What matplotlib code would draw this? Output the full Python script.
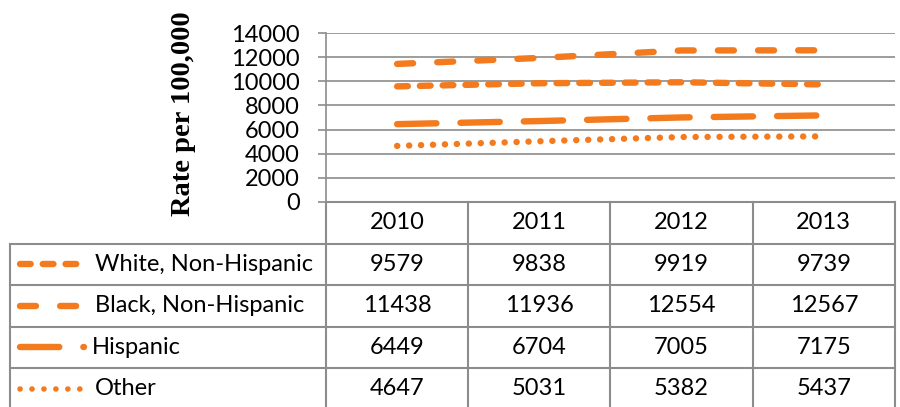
import matplotlib
matplotlib.use("Agg")
import matplotlib.pyplot as plt

years = ["2010", "2011", "2012", "2013"]
groups = ["White, Non-Hispanic", "Black, Non-Hispanic", "Hispanic", "Other"]
white = [9579, 9838, 9919, 9739]
black = [11438, 11936, 12554, 12567]
hispanic = [6449, 6704, 7005, 7175]
other = [4647, 5031, 5382, 5437]
yticks = [0, 2000, 4000, 6000, 8000, 10000, 12000, 14000]

plt.rcParams["font.family"] = ["Lato", "DejaVu Sans"]
plt.rcParams["lines.scale_dashes"] = False

W, H = 900, 407
ORANGE = "#F47A1E"
GRID = "#8c8c8c"
LW = 4.6
FS = 17
# dash patterns in points (on, off)
styles = [
    (0, (7.7, 8.7)),
    (0, (11.5, 17.4)),
    (0, (28.3, 17.3)),
    (0, (0.1, 8.5)),
]

fig = plt.figure(figsize=(W / 100, H / 100), dpi=100)

# plot area in pixels
left, right, top, bottom = 326, 895, 33, 202
ax = fig.add_axes([left / W, 1 - bottom / H, (right - left) / W, (bottom - top) / H])
ax.set_xlim(-0.5, len(years) - 0.5)
ax.set_ylim(0, 14000)
ax.set_yticks(yticks)
ax.set_xticks([])
ax.yaxis.grid(True, color=GRID, lw=1.2)
ax.set_axisbelow(True)
for s in ["top", "right", "bottom"]:
    ax.spines[s].set_visible(False)
ax.spines["left"].set_color(GRID)
ax.spines["left"].set_linewidth(1.2)
ax.tick_params(axis="y", direction="out", length=6, width=1.2, color=GRID,
               pad=13, labelsize=FS, labelcolor="black")

series = [white, black, hispanic, other]
xs = list(range(len(years)))
for vals, ls in zip(series, styles):
    ax.plot(xs, vals, color=ORANGE, lw=LW, linestyle=ls,
            dash_capstyle="round", solid_capstyle="round")

fig.text(183 / W, 1 - 114 / H, "Rate per 100,000", rotation=90,
         ha="center", va="center", family="Liberation Serif",
         weight="bold", fontsize=20.5)

# data table below the plot
tleft = 10
ppu = (right - left) / len(years)
def px2x(px):
    return -0.5 + (px - left) / ppu

row_h = 41.5
tab = fig.add_axes([tleft / W, 0, (right - tleft) / W, (H - bottom) / H])
tab.set_xlim(px2x(tleft), px2x(right))
tab.set_ylim((H - bottom) / row_h, 0)
tab.axis("off")

nrows = len(groups)
ymax = (H - bottom) / row_h + 0.2
lkw = dict(color=GRID, lw=1.5, clip_on=False)
# horizontal borders
tab.plot([-0.5, len(years) - 0.5], [0, 0], **lkw)
for r in range(1, nrows + 1):
    tab.plot([px2x(tleft), len(years) - 0.5], [r, r], **lkw)
# vertical borders
tab.plot([px2x(tleft), px2x(tleft)], [1, ymax], **lkw)
for c in range(len(years) + 1):
    tab.plot([c - 0.5, c - 0.5], [0, ymax], **lkw)

for c, yr in enumerate(years):
    tab.text(c, 0.5, yr, ha="center", va="center", fontsize=FS)

sample_end = [77, 77, 84, 80]
for r, (name, vals, ls) in enumerate(zip(groups, series, styles)):
    yc = r + 1.5
    tab.plot([px2x(20), px2x(sample_end[r])], [yc, yc], color=ORANGE,
             lw=LW if r != 3 else 4.0, linestyle=ls, dash_capstyle="round",
             solid_capstyle="round", clip_on=False)
    tab.text(px2x(95 if r != 2 else 92), yc, name, ha="left", va="center",
             fontsize=FS)
    for c, v in enumerate(vals):
        tab.text(c, yc, str(v), ha="center", va="center", fontsize=FS)

fig.savefig("out.png", dpi=100)
